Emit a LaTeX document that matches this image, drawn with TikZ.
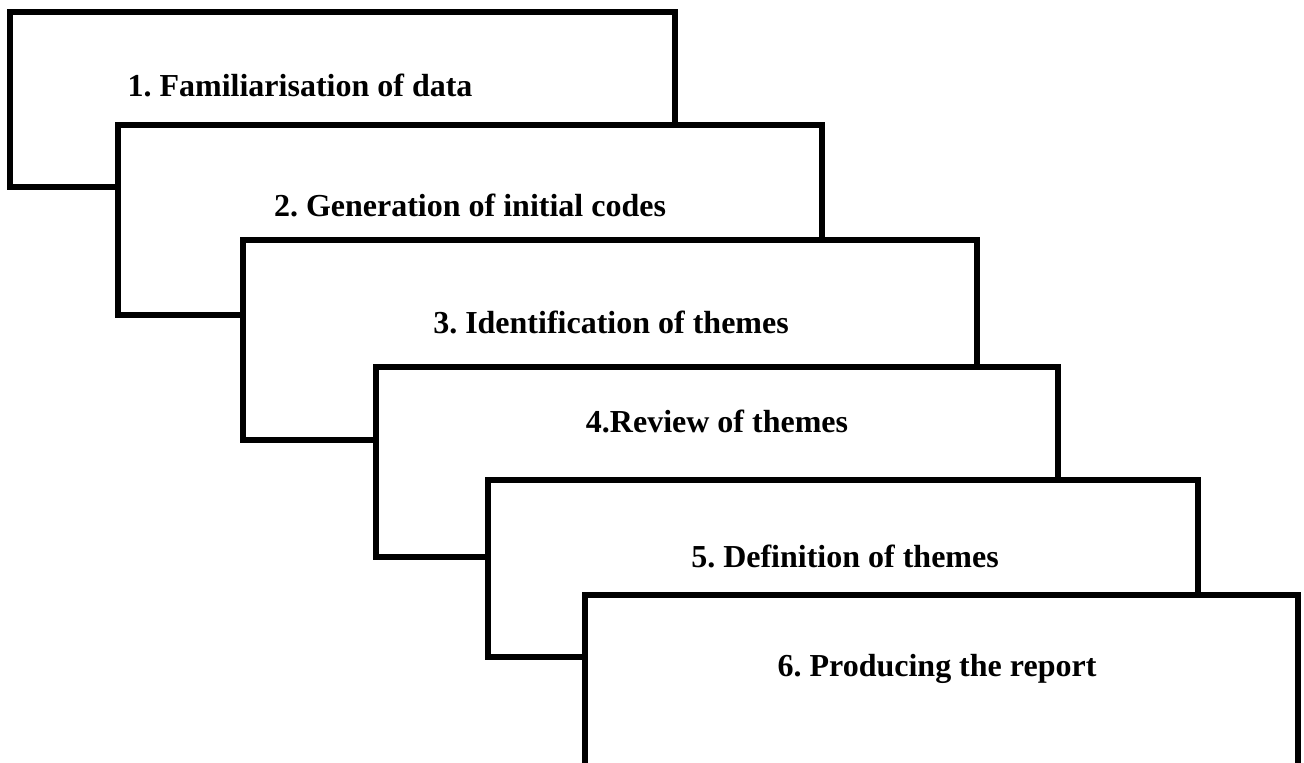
\documentclass[tikz,border=0pt]{standalone}
\usepackage{fontspec}
\setmainfont{Liberation Serif}
\usepackage{tikz}
\usetikzlibrary{positioning}

\tikzset{
  stage/.style={draw=black, fill=white, line width=2.6pt},
  stagetext/.style={font=\fontsize{16}{19}\selectfont\bfseries\frenchspacing, inner sep=0pt, anchor=base}
}

\begin{document}
\begin{tikzpicture}[x=0.5pt, y=-0.5pt]
  \useasboundingbox (0,0) rectangle (1304,762);

  % Step 1
  \filldraw[stage] (10,12) rectangle (675,187);
  \node[stagetext] (t1) at (300,96) {1. Familiarisation of data};

  % Step 2
  \filldraw[stage] (118,125) rectangle (822,315);
  \node[stagetext] (t2) at (470,216) {2. Generation of initial codes};

  % Step 3
  \filldraw[stage] (243,240) rectangle (977,440);
  \node[stagetext] (t3) at (611,333) {3. Identification of themes};

  % Step 4
  \filldraw[stage] (376,367) rectangle (1058,557);
  \node[stagetext] (t4) at (717,432) {4.Review of themes};

  % Step 5
  \filldraw[stage] (488,480) rectangle (1198,657);
  \node[stagetext] (t5) at (845,567) {5. Definition of themes};

  % Step 6 (cut off at the bottom)
  \filldraw[stage] (585,595) rectangle (1298,790);
  \node[stagetext] (t6) at (937,676) {6. Producing the report};
\end{tikzpicture}
\end{document}
